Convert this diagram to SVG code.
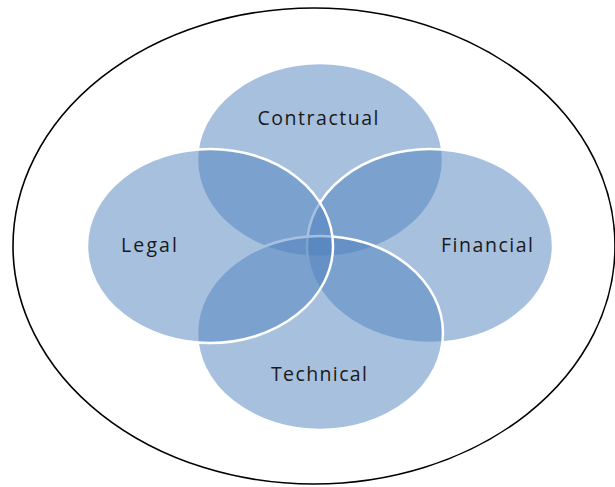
<svg xmlns="http://www.w3.org/2000/svg" width="615" height="487" viewBox="0 0 615 487">
<style>
.set{fill:#4F81BD;fill-opacity:0.5;stroke:#FFFFFF;stroke-width:2.5}
.lbl{font-family:"Open Sans","Liberation Sans",Arial,sans-serif;font-size:19.5px;fill:#1a1a1a;text-anchor:middle}
</style>
<rect width="615" height="487" fill="#FFFFFF"/>
<g id="outer">
<ellipse cx="314" cy="246" rx="301" ry="238" fill="none" stroke="#000000" stroke-width="1.6"/>
</g>
<g id="contractual">
<ellipse class="set" cx="320" cy="160" rx="123" ry="97"/>
</g>
<g id="financial">
<ellipse class="set" cx="430" cy="246" rx="123" ry="97"/>
</g>
<g id="technical">
<ellipse class="set" cx="320" cy="333" rx="123" ry="97"/>
</g>
<g id="legal">
<ellipse class="set" cx="210" cy="246" rx="123" ry="97"/>
</g>
<g id="connectors"></g>
<g id="labels">
<text class="lbl" x="318" y="125" textLength="121" lengthAdjust="spacing">Contractual</text>
<text class="lbl" x="149" y="252" textLength="56" lengthAdjust="spacing">Legal</text>
<text class="lbl" x="487" y="252" textLength="92" lengthAdjust="spacing">Financial</text>
<text class="lbl" x="319" y="381" textLength="96" lengthAdjust="spacing">Technical</text>
</g>
</svg>
